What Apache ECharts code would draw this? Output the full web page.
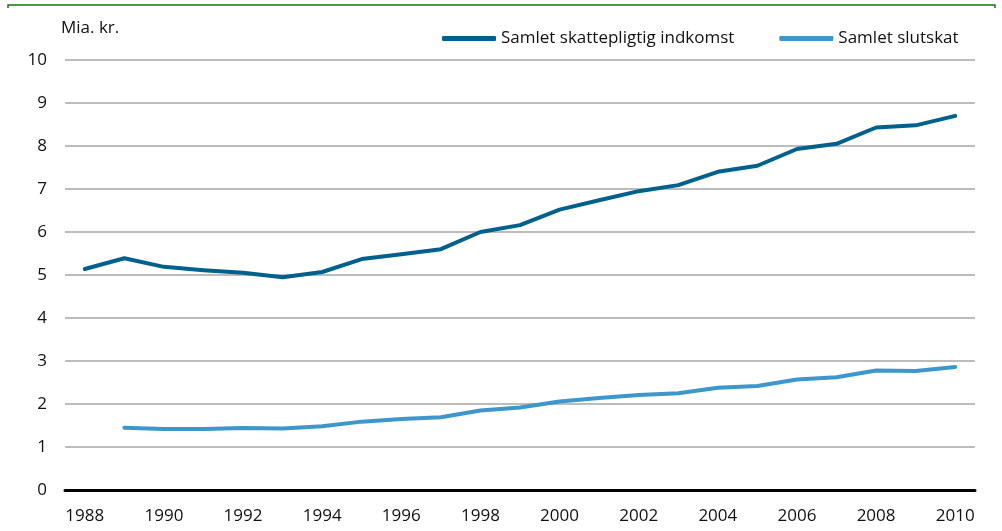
<!DOCTYPE html>
<html>
<head>
<meta charset="utf-8">
<script src="https://cdn.jsdelivr.net/npm/echarts@6/dist/echarts.min.js"></script>
<style>
  html, body { margin: 0; padding: 0; background: #fff; }
  #chart { width: 1002px; height: 531px; }
</style>
</head>
<body>
<div id="chart"></div>
<script>
const years = ['1988', '1989', '1990', '1991', '1992', '1993', '1994', '1995', '1996', '1997', '1998',
    '1999', '2000', '2001', '2002', '2003', '2004', '2005', '2006', '2007', '2008', '2009', '2010'];

// Samlet skattepligtig indkomst (mia. kr.)
const indkomst = [5.14, 5.39, 5.19, 5.11, 5.05, 4.95, 5.07, 5.37, 5.48, 5.60, 6.00,
    6.16, 6.52, 6.74, 6.95, 7.09, 7.40, 7.54, 7.93, 8.05, 8.43, 8.48, 8.70];

// Samlet slutskat (mia. kr.)
const slutskat = [null, 1.45, 1.42, 1.42, 1.44, 1.43, 1.48, 1.59, 1.65, 1.69, 1.85,
    1.92, 2.06, 2.14, 2.21, 2.25, 2.38, 2.42, 2.57, 2.62, 2.78, 2.77, 2.86];

const seriesNames = ['Samlet skattepligtig indkomst', 'Samlet slutskat'];

const font = '"Open Sans", sans-serif';

const chart = echarts.init(document.getElementById('chart'), null, {renderer: 'canvas'});
chart.setOption({
    animation: false,
    color: ['#00618f', '#3b97cc'],
    grid: {left: 65, right: 27, top: 60, bottom: 41, containLabel: false},
    legend: {
        top: 25,
        left: 437,
        itemGap: 45,
        itemWidth: 54,
        itemHeight: 5,
        icon: 'roundRect',
        textStyle: {fontFamily: font, fontSize: 17, color: '#111'},
        data: seriesNames
    },
    graphic: [
        {
            type: 'polyline',
            shape: {points: [[8, 8], [8, 5], [995, 5], [995, 8]]},
            style: {stroke: '#117a11', lineWidth: 1.5, fill: null}
        },
        {
            type: 'text',
            left: 61,
            top: 20,
            style: {text: 'Mia. kr.', font: '17px ' + font, fill: '#111'}
        }
    ],
    xAxis: {
        type: 'category',
        data: years,
        boundaryGap: true,
        axisLine: {lineStyle: {color: '#000', width: 3}},
        axisTick: {show: false},
        axisLabel: {
            interval: 1,
            margin: 18,
            fontFamily: font,
            fontSize: 17,
            color: '#111'
        }
    },
    yAxis: {
        type: 'value',
        min: 0,
        max: 10,
        interval: 1,
        axisLine: {show: false},
        axisTick: {show: false},
        axisLabel: {margin: 18, fontFamily: font, fontSize: 17, color: '#111'},
        splitLine: {lineStyle: {color: '#a6a6a6', width: 1.5}}
    },
    series: [
        {
            name: seriesNames[0],
            type: 'line',
            data: indkomst,
            symbol: 'none',
            lineStyle: {width: 4, cap: 'round', join: 'round'}
        },
        {
            name: seriesNames[1],
            type: 'line',
            data: slutskat,
            symbol: 'none',
            lineStyle: {width: 4, cap: 'round', join: 'round'}
        }
    ]
});
</script>
</body>
</html>
